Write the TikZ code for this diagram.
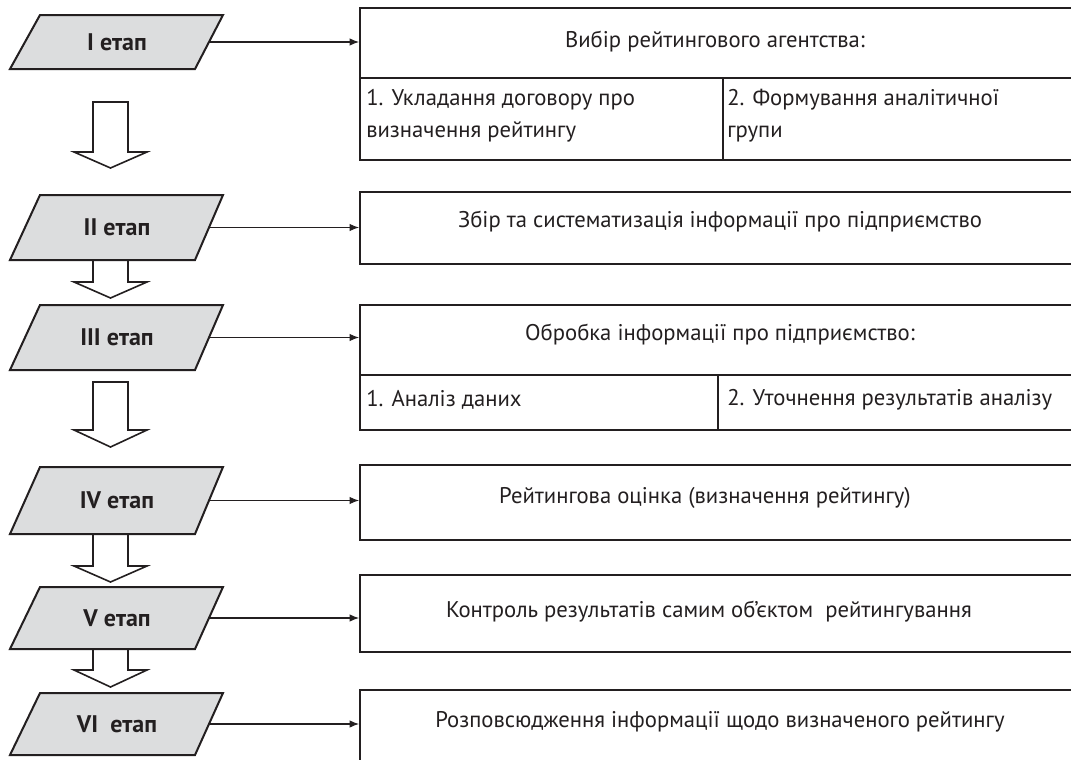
\documentclass[tikz,border=0pt]{standalone}
\usepackage{fontspec}
\setmainfont{PT Sans}
\usetikzlibrary{arrows.meta,fit}
\definecolor{ink}{HTML}{231F20}
\definecolor{stagegray}{HTML}{DCDDDE}
\tikzset{
  stageshape/.style={draw=ink, fill=stagegray, line width=1.5pt, line join=miter},
  stagetext/.style={font=\bfseries\fontsize{18}{20}\selectfont, text=ink, inner sep=0pt},
  box/.style={draw=ink, line width=1.4pt, inner sep=0pt},
  divider/.style={draw=ink, line width=1.4pt},
  boxtext/.style={font=\fontsize{17}{20}\selectfont, text=ink, inner sep=0pt},
  celltext/.style={font=\fontsize{17}{24}\selectfont, text=ink, inner sep=0pt, align=left, anchor=west},
  link/.style={draw=ink, line width=0.8pt, -{Latex[length=7pt,width=5.5pt]}},
  blockarrow/.style={draw=ink, fill=white, line width=1.2pt, line join=miter}
}
\newcommand\stagebox[4]{%
  \draw[stageshape] (40,#2) -- (223,#2) -- (195,#3) -- (10,#3) -- cycle;
  \node[stagetext] (#1) at (117,{(#2+#3)/2}) {#4};
  \coordinate (#1r) at (209,{(#2+#3)/2});
}
\newcommand\blockarr[3]{%
  \draw[blockarrow] (93,#1) -- (128,#1) -- (128,#2) -- (147,#2) -- (110.5,#3) -- (74,#2) -- (93,#2) -- cycle;
}
\begin{document}
\begin{tikzpicture}[x=0.75pt,y=-0.75pt]
\useasboundingbox (0,0) rectangle (1071,760);
\clip (0,0) rectangle (1071,760);

% block arrows between stages
\blockarr{102}{152}{168}
\blockarr{260}{282}{298}
\blockarr{382}{430}{447}
\blockarr{534}{566}{582}
\blockarr{649}{670}{687}

% stages
\stagebox{s1}{15}{69}{I етап}
\stagebox{s2}{195}{260}{II етап}
\stagebox{s3}{305}{370}{III етап}
\stagebox{s4}{467}{534}{IV етап}
\stagebox{s5}{587}{649}{V етап}
\stagebox{s6}{693}{755}{VI\ \ етап}

% boxes
\node[box, fit={(360,8) (1085,160)}] (b1) {};
\draw[divider] (360,78) -- (1085,78);
\draw[divider] (723,78) -- (723,160);
\node[boxtext] (t1) at (715,42) {Вибір рейтингового агентства:};
\node[celltext] (c11) at (366,116) {1. Укладання договору про\\визначення рейтингу};
\node[celltext] (c12) at (727,116) {2. Формування аналітичної\\групи};

\node[box, fit={(360,192) (1085,264)}] (b2) {};
\node[boxtext] (t2) at (720,222) {Збір та систематизація інформації про підприємство};

\node[box, fit={(360,305) (1085,430)}] (b3) {};
\draw[divider] (360,375) -- (1085,375);
\draw[divider] (718,375) -- (718,430);
\node[boxtext] (t3) at (720,335) {Обробка інформації про підприємство:};
\node[celltext] (c31) at (366,400) {1. Аналіз даних};
\node[celltext] (c32) at (727,400) {2. Уточнення результатів аналізу};

\node[box, fit={(360,465) (1085,540)}] (b4) {};
\node[boxtext] (t4) at (705,498) {Рейтингова оцінка (визначення рейтингу)};

\node[box, fit={(360,575) (1085,652)}] (b5) {};
\node[boxtext] (t5) at (709,612) {Контроль результатів самим об’єктом\ \ рейтингування};

\node[box, fit={(360,690) (1085,775)}] (b6) {};
\node[boxtext] (t6) at (720,722) {Розповсюдження інформації щодо визначеного рейтингу};

% links
\draw[link] (s1r) -- (s1r -| b1.west);
\draw[link] (s2r) -- (s2r -| b2.west);
\draw[link] (s3r) -- (s3r -| b3.west);
\draw[link] (s4r) -- (s4r -| b4.west);
\draw[link] (s5r) -- (s5r -| b5.west);
\draw[link] (s6r) -- (s6r -| b6.west);
\end{tikzpicture}
\end{document}
